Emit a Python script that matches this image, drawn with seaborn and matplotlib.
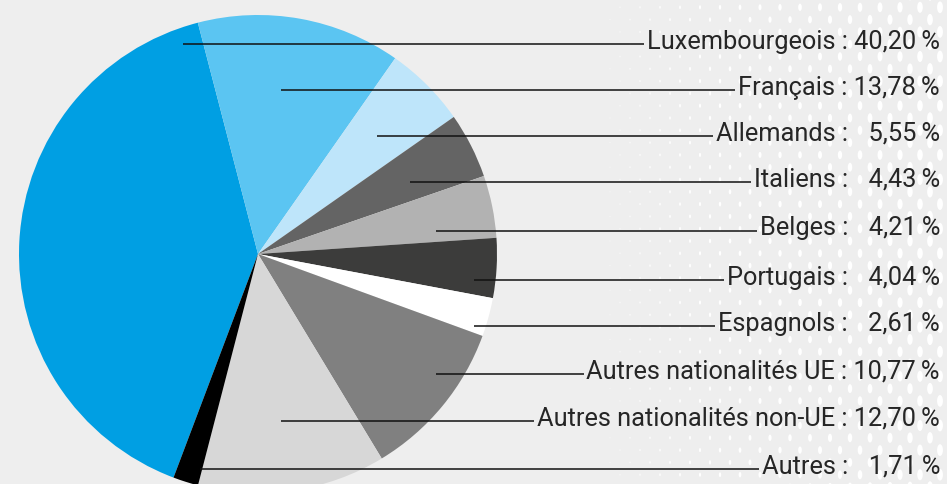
import numpy as np
import matplotlib
matplotlib.use("Agg")
import matplotlib.pyplot as plt
import matplotlib.path as mpath
import seaborn as sns

# data
labels = ["Luxembourgeois", "Français", "Allemands", "Italiens", "Belges",
          "Portugais", "Espagnols", "Autres nationalités UE",
          "Autres nationalités non-UE", "Autres"]
shares = [40.20, 13.78, 5.55, 4.43, 4.21, 4.04, 2.61, 10.77, 12.70, 1.71]
colors = ["#009fe3", "#5bc5f2", "#bee5fa", "#646464", "#b2b2b2",
          "#3c3c3b", "#ffffff", "#808080", "#d7d7d7", "#000000"]

sns.set_theme(style="white")
plt.rcParams["font.family"] = ["Roboto", "DejaVu Sans"]

W, H = 947, 485
fig = plt.figure(figsize=(W / 100, H / 100), dpi=100)
fig.patch.set_facecolor("#eeeeee")
ax = fig.add_axes([0, 0, 1, 1])
ax.set_facecolor("#eeeeee")

# halftone dots on the right
dot = mpath.Path.unit_circle()
dot = mpath.Path(dot.vertices * [0.5, 1.0], dot.codes)
xs, ys, ss = [], [], []
for i, yy in enumerate(np.arange(H + 4, -8, -12.3)):
    off = 0 if i % 2 == 0 else 10
    for xx in np.arange(570 + off, W + 10, 20):
        h = max(0.0, (xx - 570) / (W - 570)) * 12
        if h > 1.0:
            xs.append(xx); ys.append(yy); ss.append((0.72 * h) ** 2)
ax.scatter(xs, ys, s=ss, marker=dot, color="white", linewidths=0, zorder=0)

cx, cy, r = 258, H - 255, 239
ax.pie(shares, colors=colors, startangle=249.3, counterclock=False,
       center=(cx, cy), radius=r, frame=True,
       wedgeprops=dict(linewidth=0, antialiased=True))

ax.set_xlim(0, W)
ax.set_ylim(0, H)
ax.set_aspect("auto")
ax.axis("off")

line_y = [45, 91, 137, 183, 232, 281, 327, 375, 422, 470]
line_x0 = [183, 281, 377, 410, 436, 474, 474, 436, 281, 200]

fig.canvas.draw()
renderer = fig.canvas.get_renderer()
for lab, val, ly, lx in zip(labels, shares, line_y, line_x0):
    num = f"{val:.2f}".replace(".", ",")
    if val < 10:
        num = "\u2007" + num
    txt = f"{lab} : {num}\u2009%"
    y = H - ly
    t = ax.text(940, y - 3.5, txt, ha="right", va="baseline",
                fontsize=18.3, color="#262626", zorder=5)
    bb = t.get_window_extent(renderer)
    x1 = ax.transData.inverted().transform((bb.x0, 0))[0] - 3
    ax.plot([lx, x1], [y, y], color="#111111", lw=1.1, zorder=4,
            solid_capstyle="butt")

fig.savefig("out.png", dpi=100, facecolor=fig.get_facecolor())
